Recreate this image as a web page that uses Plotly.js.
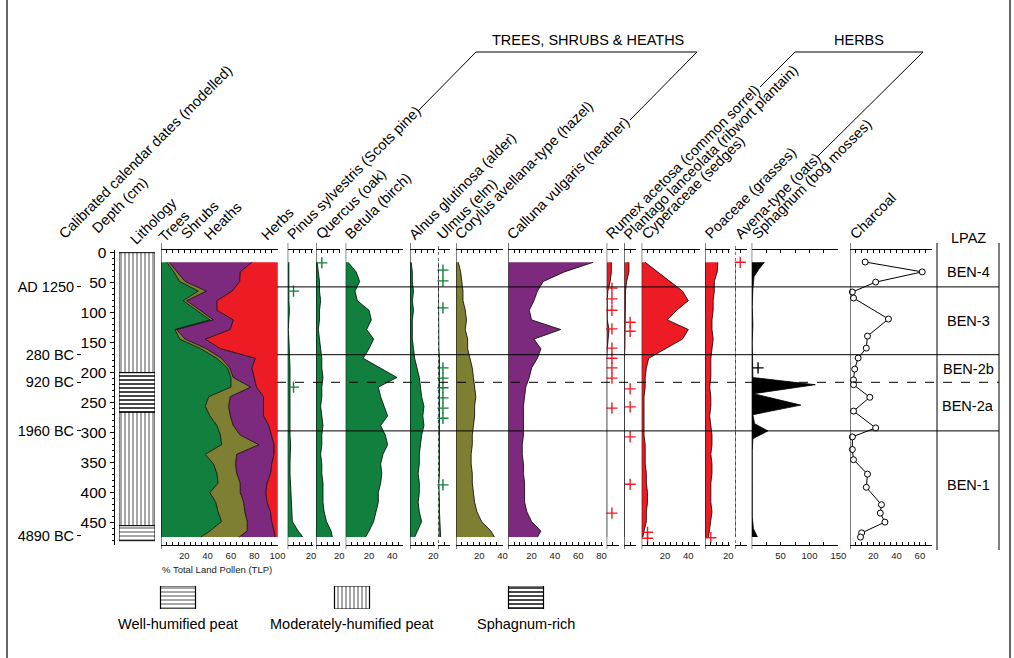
<!DOCTYPE html>
<html><head><meta charset="utf-8">
<script src="https://cdn.plot.ly/plotly-3.0.1.min.js"></script>
<style>html,body{margin:0;padding:0;background:#fff}#chart{width:1014px;height:658px}</style>
</head><body><div id="chart"></div>
<script>
// ---------------- DATA ----------------
const depths = [16,32,48,64,80,96,112,128,144,160,176,192,208,224,240,256,272,288,304,320,336,352,368,384,400,416,432,448,464,474];
const trees  = [5,11,16,32,19,31,42,12,16,34,48,57,60,60,41,38,42,48,51,52,38,45,48,49,42,47,49,52,42,34];
const shrubs = [2,2.5,4.7,7,3,2.6,3,1.5,4.7,5,4,2,2,17,18.5,20,17.5,14,17,32,27,19,17,19,26,24,23,22,32,33];
const heaths = [71,54.5,46.8,22,26,14.4,17,46,17.3,12,29,19,18,5,28.5,30,28.5,30.5,27,13,32,31,29,23,22,20,22,21,23,31];
const herbs  = [22,32,32.5,39,52,52,38,40.5,62,49,19,22,20,18,12,12,12,7.5,5,3,3,5,6,9,10,9,6,5,3,2];

const pinus     = [1,1,0.5,1,1,1.5,1,0.5,1,1.5,2,2,2,2,2,2,1.5,2,2,2.5,2,2,2,2.5,3,3,4,4,9,13];
const quercus   = [1,2,3,3,4,3,3,2,3,4,5,5,6,5,5,4,5,6,5,5,4,5,5,6,6,6,7,9,13,14];
const betula    = [2,9,12,8,10,20,22,18,24,20,15,30,44,28,30,33,36,30,34,36,32,30,31,30,28,28,26,24,20,17];
const alnus     = [1,2,2,3,2,3,2,2,2,3,4,6,8,9,10,12,11,12,10,9,8,8,7,8,8,7,8,10,6,4];
const ulmus     = [0,0,0,0,0,0,0.5,0,0,0.5,1,1,1,1.5,1,1,1,1,1,1,1.5,1,1,0.5,1,1,1,1.5,2,2];
const corylus   = [2,4,5,6,6,8,9,8,10,10,12,14,15,16,17,16,16,15,14,14,13,13,14,14,15,16,18,22,30,33];
const calluna   = [73,48,30,25,22,18,20,45,22,28,25,20,18,15,14,13,13,13,13,12,12,13,13,14,14,14,16,20,28,25];
const rumex     = [4,4,3,1,0.5,0.5,0.5,2,1,0.5,0,0,0,0,0,0,0,0,0,0,0,0,0,0,0,0,0,0,0,0];
const plantago  = [4,4,2,1,1,1,0.5,0.5,0.5,0.5,0,0,0,0,0,0,0,0,0,0,0,0,0,0,0,0,0,0,0,0];
const cyperaceae= [3,14,25,35,40,30,22,40,35,20,6,4,3,3,2,2,2,2,2,3,3,3,4,4,5,5,4,4,2,1];
const poaceae   = [11,10.5,8,8,7,7,6,6,7,6,5,5,5,4,5,5,4,5,6,6,5,6,6,5,5,5,6,5,4,3];
const avena     = [0,0,0,0,0,0,0,0,0,0,0,0,0,0,0,0,0,0,0,0,0,0,0,0,0,0,0,0,0,0];

const sphDepths = [16,28,40,60,90,120,150,175,195,208,220,235,254,270,285,297,310,330,380,440,460,474];
const sphagnum  = [22,12,4,2,1,2,1,1,1,2,110,3,85,2,5,28,2,1,1,1,3,10];

const charDepths = [15.5,32,49,65.5,75.5,110.5,139,159,175.5,194,212,220,241,264,292,307,328,345,369,391,420,434,449,467,474];
const charcoal   = [13,62,22,2,3,33,15,14,7,4,3,3,17,3,22,2,2,3,15,14,27,26,30,10,9];

// rare-taxa presence ("+") depths
const plusPinus = [64,224];
const plusQuercus = [17];
const plusUlmus = [29,47,92,192,209,225,242,259,276,387];
const plusRumex = [59,77,96,127,159,176,192,209,259,434];
const plusPlantago = [116,131,227,257,307,386];
const plusCyper = [466,476];
const plusPoaceae = [475];
const plusAvena = [16];
const plusSphagnum = [192];

// lithology
const lithoTop    = [0,200,266,455];
const lithoBottom = [200,266,455,480];
const lithoType   = ['moderate','sphagnum','moderate','well'];

// dates & zones
const dateDepths = [56.7,170,216,297,472];
const dateLabels = ['AD 1250','280 BC','920 BC','1960 BC','4890 BC'];
const depthTicks = [0,50,100,150,200,250,300,350,400,450];
const zoneDepths = [57,170,216,297];
const zoneDashed = [false,false,true,false];
const zoneNames  = ['BEN-4','BEN-3','BEN-2b','BEN-2a','BEN-1'];
const zoneLabelDepths = [32,113,193,256,387];

// ---------------- LAYOUT HELPERS ----------------
const W=1014, H=658;
const fx = v => v/W, fy = v => 1 - v/H;
const K = 1.165; // px per percent
const FONT = 'Liberation Sans, Arial, sans-serif';
const GREEN='#11803e', OLIVE='#7f7f34', PURPLE='#7d2a7e', RED='#ed1c24';

const yTop = 250, yBot = 545;
const yRange = [(yBot-252.7)/0.6, (yTop-252.7)/0.6];

const traces = [];
const layout = {
  width: W, height: H, margin:{l:0,r:0,t:0,b:0}, paper_bgcolor:'#fff', plot_bgcolor:'rgba(0,0,0,0)',
  showlegend:false, font:{family:FONT, color:'#000'}, shapes:[], annotations:[], barmode:'overlay'
};

layout.yaxis = {domain:[fy(yBot), fy(yTop)], range:[yRange[0], yRange[1]], anchor:'free', position:fx(113.5),
  showline:true, linecolor:'#000', linewidth:1, ticks:'outside', ticklen:4, tickcolor:'#000',
  tickvals:depthTicks, minor:{dtick:10, ticks:'outside', ticklen:2, tickcolor:'#000'},
  tickfont:{size:15.5, family:FONT}, showgrid:false, zeroline:false};
layout.yaxis2 = {overlaying:'y', domain:[fy(yBot), fy(yTop)], range:[yRange[0], yRange[1]], anchor:'free', position:fx(81),
  side:'left', showline:false, ticks:'outside', ticklen:4, tickcolor:'#000', tickvals:dateDepths, ticktext:dateLabels,
  tickfont:{size:14.5, family:FONT}, showgrid:false, zeroline:false};
traces.push({type:'scatter', x:dateDepths.map(()=>null), y:dateDepths, xaxis:'x', yaxis:'y2', mode:'markers', hoverinfo:'skip'});

const panels = [
  {n:2, left:161,   max:100, step:5, lab:20},
  {n:3, left:287.7, max:21.5, step:5, lab:20},
  {n:4, left:316,   max:21, step:5, lab:20},
  {n:5, left:345.7, max:49, step:5, lab:20},
  {n:6, left:410,   max:21.5, step:5, lab:20},
  {n:7, left:438.3, max:10, step:5, lab:20, dot:true},
  {n:8, left:456,   max:40.3, step:5, lab:20},
  {n:9, left:508.3, max:81, step:5, lab:20},
  {n:10,left:606.7, max:10.5, step:5, lab:20},
  {n:11,left:624.3, max:10, step:5, lab:20},
  {n:12,left:641.7, max:50, step:5, lab:20},
  {n:13,left:705,   max:21.5, step:5, lab:20},
  {n:14,left:735,   max:10, step:5, lab:20, dot:true},
  {n:15,left:751.7, max:150, step:25, lab:50, k:0.578},
  {n:16,left:850,   max:70, step:5, lab:20}
];
panels.forEach(p=>{
  const k = p.k || K;
  const tv=[], tt=[];
  for(let v=0; v<=p.max+1e-9; v+=p.step){ tv.push(v); tt.push(v>0 && Math.abs(v % p.lab)<1e-9 ? String(v) : ''); }
  layout['xaxis'+p.n] = {domain:[fx(p.left), fx(p.left+p.max*k)], range:[0,p.max], anchor:'y',
    showline:true, linecolor:'#000', linewidth:1, mirror:'ticks', ticks:'inside', ticklen:3, tickcolor:'#000',
    tickvals:tv, ticktext:tt, tickfont:{size:9.5, family:FONT, color:'#222'}, ticklabelstandoff:2,
    showgrid:false, zeroline:false};
  layout.shapes.push({type:'line', xref:'x'+p.n, yref:'paper', x0:0, x1:0, y0:fy(549), y1:fy(243),
    line:{color:'#000', width:1, dash: p.dot ? 'dot':'solid'}});
});
layout.xaxis = {domain:[fx(119), fx(155)], range:[0,1], anchor:'y', visible:false};

[[trees,GREEN],[shrubs,OLIVE],[heaths,PURPLE],[herbs,RED]].forEach(([v,c])=>{
  traces.push({type:'scatter', x:v, y:depths, xaxis:'x2', yaxis:'y', mode:'lines', stackgroup:'sum', orientation:'h',
    fillcolor:c, line:{color:'#000', width:0.8}, hoverinfo:'skip'});
});
const taxa = [
  [pinus,3,GREEN,depths],[quercus,4,GREEN,depths],[betula,5,GREEN,depths],[alnus,6,GREEN,depths],[ulmus,7,GREEN,depths],
  [corylus,8,OLIVE,depths],[calluna,9,PURPLE,depths],[rumex,10,RED,depths],[plantago,11,RED,depths],
  [cyperaceae,12,RED,depths],[poaceae,13,RED,depths],[avena,14,RED,depths],[sphagnum,15,'#000',sphDepths]
];
taxa.forEach(([v,n,c,d])=>{
  traces.push({type:'scatter', x:v, y:d, xaxis:'x'+n, yaxis:'y', mode:'lines', fill:'tozerox', fillcolor:c,
    line:{color:'#000', width:0.8}, hoverinfo:'skip'});
});
const pluses = [[plusPinus,3,GREEN,5],[plusQuercus,4,GREEN,5],[plusUlmus,7,GREEN,4],[plusRumex,10,RED,4.5],
  [plusPlantago,11,RED,5],[plusCyper,12,RED,5],[plusPoaceae,13,RED,5],[plusAvena,14,RED,4.5],[plusSphagnum,15,'#000',11]];
pluses.forEach(([d,n,c,off])=>{
  traces.push({type:'scatter', x:d.map(()=>off), y:d, xaxis:'x'+n, yaxis:'y', mode:'markers',
    marker:{symbol:'cross-thin', size:8, line:{color:c, width:1.4}}, hoverinfo:'skip', cliponaxis:false});
});
traces.push({type:'scatter', x:charcoal, y:charDepths, xaxis:'x16', yaxis:'y', mode:'lines+markers',
  line:{color:'#000', width:1}, marker:{symbol:'circle', size:6, color:'#fff', line:{color:'#000', width:1}}, cliponaxis:false});

const patt = {moderate:{shape:'|', size:4, solidity:0.22}, well:{shape:'-', size:4, solidity:0.22}, sphagnum:{shape:'-', size:4, solidity:0.45}};
traces.push({type:'bar', orientation:'h', xaxis:'x', yaxis:'y',
  y: lithoTop.map((t,i)=>(t+lithoBottom[i])/2), width: lithoTop.map((t,i)=>lithoBottom[i]-t),
  x: lithoTop.map(()=>1), base:0,
  marker:{color:'#fff', line:{color:'#000', width:1},
    pattern:{shape:lithoType.map(t=>patt[t].shape), size:lithoType.map(t=>patt[t].size), solidity:lithoType.map(t=>patt[t].solidity), fgcolor:'#333', bgcolor:'#fff', fillmode:'replace'}},
  hoverinfo:'skip'});
const legendTypes = ['well','moderate','sphagnum'];
const legendNames = ['Well-humified peat','Moderately-humified peat','Sphagnum-rich'];
const legendCenters = [178, 352, 526];
layout.xaxis17 = {domain:[0,1], range:[0,W], anchor:'y17', visible:false};
layout.yaxis17 = {domain:[fy(609), fy(586)], range:[0,1], anchor:'x17', visible:false};
traces.push({type:'bar', xaxis:'x17', yaxis:'y17', x:legendCenters, y:legendCenters.map(()=>1), width:legendCenters.map(()=>35), base:0,
  marker:{color:'#fff', line:{color:'#000', width:1.2},
    pattern:{shape:legendTypes.map(t=>patt[t].shape), size:legendTypes.map(t=>patt[t].size), solidity:legendTypes.map(t=>patt[t].solidity), fgcolor:'#333', bgcolor:'#fff', fillmode:'replace'}},
  hoverinfo:'skip'});
legendNames.forEach((t,i)=>layout.annotations.push({text:t, xref:'paper', yref:'paper', x:fx(legendCenters[i]), y:fy(624),
  xanchor:'center', yanchor:'middle', showarrow:false, font:{size:14.5, family:FONT}}));

zoneDepths.forEach((d,i)=>layout.shapes.push({type:'line', xref:'paper', yref:'y', x0:fx(277), x1:fx(999), y0:d, y1:d,
  line:{color:'#000', width:1, dash: zoneDashed[i]?'dash':'solid'}}));
[937,999].forEach(x=>layout.shapes.push({type:'line', xref:'paper', yref:'paper', x0:fx(x), x1:fx(x), y0:fy(550), y1:fy(243), line:{color:'#000', width:1}}));
zoneNames.forEach((z,i)=>layout.annotations.push({text:z, xref:'paper', yref:'y', x:fx(968), y:zoneLabelDepths[i],
  xanchor:'center', yanchor:'middle', showarrow:false, font:{size:14.5, family:FONT}}));
layout.annotations.push({text:'LPAZ', xref:'paper', yref:'paper', x:fx(968), y:fy(238), xanchor:'center', yanchor:'middle', showarrow:false, font:{size:14.5, family:FONT}});

[7,1010].forEach(x=>layout.shapes.push({type:'line', xref:'paper', yref:'paper', x0:fx(x), x1:fx(x), y0:0, y1:1, line:{color:'#666', width:2}}));

const rotLabels = [
  ['Calibrated calendar dates (modelled)',60,242],['Depth (cm)',93,236],['Lithology',131,247],
  ['Trees',160,245],['Shrubs',182,242],['Heaths',205,243],['Herbs',262,243],
  ['Pinus sylvestris (Scots pine)',288,242],['Quercus (oak)',317,242],['Betula (birch)',346,242],
  ['Alnus glutinosa (alder)',410,242],['Ulmus (elm)',438,242],['Corylus avellana-type (hazel)',456,242],
  ['Calluna vulgaris (heather)',508,242],['Rumex acetosa (common sorrel)',607,242],
  ['Plantago lanceolata (ribwort plantain)',625,242],['Cyperaceae (sedges)',643,242],['Poaceae (grasses)',706,242],
  ['Avena-type (oats)',736,242],['Sphagnum (bog mosses)',753,242],['Charcoal',851,242]
];
rotLabels.forEach(([t,x,y])=>layout.annotations.push({text:t, xref:'paper', yref:'paper', x:fx(x-7), y:fy(y+3),
  xanchor:'left', yanchor:'bottom', textangle:-45, showarrow:false, font:{size:14.5, family:FONT}}));

layout.annotations.push({text:'TREES, SHRUBS & HEATHS', xref:'paper', yref:'paper', x:fx(587.5), y:fy(40), xanchor:'center', yanchor:'middle', showarrow:false, font:{size:14.5, family:FONT}});
layout.annotations.push({text:'HERBS', xref:'paper', yref:'paper', x:fx(858.5), y:fy(40), xanchor:'center', yanchor:'middle', showarrow:false, font:{size:14.5, family:FONT}});
const pathOf = pts => 'M ' + pts.map(([x,y])=>fx(x)+' '+fy(y)).join(' L ');
layout.shapes.push({type:'path', xref:'paper', yref:'paper', path:pathOf([[418,111],[476,52],[697,52],[630,120]]), line:{color:'#000', width:1}});
layout.shapes.push({type:'path', xref:'paper', yref:'paper', path:pathOf([[760,87],[795,52],[923,52],[817,157]]), line:{color:'#000', width:1}});

layout.annotations.push({text:'% Total Land Pollen (TLP)', xref:'paper', yref:'paper', x:fx(160), y:fy(569), xanchor:'left', yanchor:'middle', showarrow:false, font:{size:9.5, family:FONT, color:'#222'}});

Plotly.newPlot('chart', traces, layout, {displayModeBar:false, staticPlot:true});
</script></body></html>
